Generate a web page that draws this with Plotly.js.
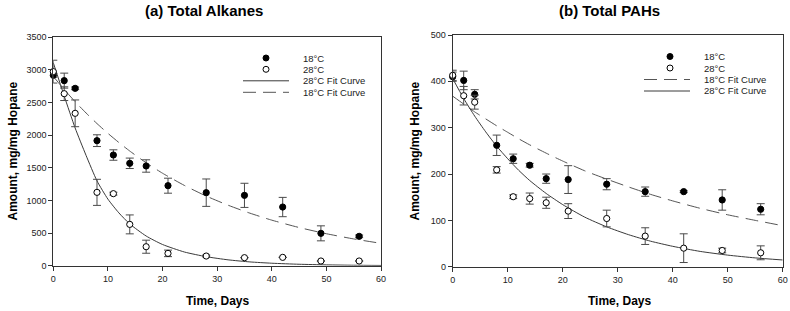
<!DOCTYPE html>
<html>
<head>
<meta charset="utf-8">
<script src="https://cdn.plot.ly/plotly-3.0.1.min.js"></script>
<style>
  html, body { margin: 0; padding: 0; background: #fff; }
  #chart { width: 790px; height: 311px; }
</style>
</head>
<body>
<div id="chart"></div>
<script>
// Sampling days
var days = [0, 2, 4, 8, 11, 14, 17, 21, 28, 35, 42, 49, 56];

// (a) Total alkanes, mg/mg hopane
var alk18 = [2918, 2836, 2718, 1916, 1696, 1569, 1528, 1226, 1119, 1078, 899, 496, 450];
var alk18Err = [30, 115, 20, 90, 80, 80, 95, 115, 210, 185, 148, 115, 20];
var alk28 = [2974, 2636, 2335, 1124, 1104, 633, 291, 189, 148, 123, 128, 72, 72];
var alk28Err = [175, 105, 205, 200, 22, 145, 100, 50, 15, 0, 0, 0, 0];

// (b) Total PAHs, mg/mg hopane
var pah18 = [410, 402, 372, 262, 233, 219, 190, 188, 178, 162, 162, 144, 124];
var pah18Err = [10, 20, 10, 22, 10, 4, 10, 30, 12, 10, 2, 22, 12];
var pah28 = [413, 369, 355, 209, 151, 147, 138, 120, 104, 66, 40, 35, 30];
var pah28Err = [11, 20, 15, 7, 4, 12, 12, 16, 18, 18, 31, 5, 15];

// First-order fit curves
var fitDays = [0, 2, 4, 6, 8, 10, 12, 14, 17, 20, 24, 28, 32, 36, 40, 45, 50, 55, 60];
var alk28Fit = [3110, 2600, 2110, 1690, 1300, 1020, 810, 640, 455, 325, 210, 138, 90, 58, 38, 22, 13, 7, 4];
var alk18Fit = [2900, 2700, 2513, 2340, 2178, 2028, 1888, 1757, 1577, 1417, 1230, 1067, 927, 805, 698, 585, 490, 410, 343];
var pah18Fit = [368, 351, 334, 319, 304, 290, 276, 263, 245, 228, 207, 189, 172, 156, 142, 126, 112, 100, 88.5];
var pah28Fit = [406, 363, 325, 291, 260, 233, 208, 186, 158, 134, 107, 86, 69, 55, 44, 33, 25, 19, 14.5];

// Labels
var panelTitles = ['(a) Total Alkanes', '(b) Total PAHs'];
var xTitle = 'Time, Days';
var yTitle = 'Amount, mg/mg Hopane';
var lbl18 = '18°C', lbl28 = '28°C';
var lblFit18 = '18°C Fit Curve', lblFit28 = '28°C Fit Curve';

var W = 790, H = 311;
function px(x) { return x / W; }
function py(y) { return 1 - y / H; }

var FONT = 'Arial, "Liberation Sans", Helvetica, sans-serif';
var INK = '#222';
var ERR = '#4a4a4a';

function errSpec(arr) {
  return { type: 'data', array: arr, visible: true, color: ERR, thickness: 1, width: 4 };
}
function pts(x, y, err, filled, xa, ya) {
  return {
    x: x, y: y, xaxis: xa, yaxis: ya, type: 'scatter', mode: 'markers',
    cliponaxis: false, error_y: errSpec(err),
    marker: { size: 6.2, color: filled ? '#000' : '#fff', line: { color: '#000', width: 1 } },
    hoverinfo: 'skip'
  };
}
function fit(x, y, dashed, xa, ya) {
  return {
    x: x, y: y, xaxis: xa, yaxis: ya, type: 'scatter', mode: 'lines',
    line: { color: dashed ? '#555' : '#3a3a3a', width: 1, dash: dashed ? '13px,7px' : 'solid', shape: 'spline', smoothing: 0.6 },
    hoverinfo: 'skip'
  };
}

var traces = [
  fit(fitDays, alk28Fit, false, 'x', 'y'),
  fit(fitDays, alk18Fit, true, 'x', 'y'),
  pts(days, alk18, alk18Err, true, 'x', 'y'),
  pts(days, alk28, alk28Err, false, 'x', 'y'),
  fit(fitDays, pah18Fit, true, 'x2', 'y2'),
  fit(fitDays, pah28Fit, false, 'x2', 'y2'),
  pts(days, pah18, pah18Err, true, 'x2', 'y2'),
  pts(days, pah28, pah28Err, false, 'x2', 'y2')
];

function axis(extra) {
  var base = {
    showline: true, mirror: true, linecolor: '#333', linewidth: 1,
    ticks: 'outside', ticklen: 4, tickwidth: 1, tickcolor: '#333',
    showgrid: false, zeroline: false, automargin: false,
    tickfont: { family: FONT, size: 9, color: INK }
  };
  for (var k in extra) base[k] = extra[k];
  return base;
}

var annotations = [];
var shapes = [];
function text(t, x, y, opts) {
  var a = {
    text: t, xref: 'paper', yref: 'paper', x: px(x), y: py(y),
    xanchor: 'center', yanchor: 'middle', showarrow: false,
    font: { family: FONT, size: 12, color: '#000' }
  };
  for (var k in opts) a[k] = opts[k];
  annotations.push(a);
}

// Panel titles and axis titles
text('<b>' + panelTitles[0] + '</b>', 204, 10.5, { font: { family: FONT, size: 15, color: '#000' } });
text('<b>' + panelTitles[1] + '</b>', 609, 10.5, { font: { family: FONT, size: 15, color: '#000' } });
text('<b>' + xTitle + '</b>', 217, 300.5, {});
text('<b>' + xTitle + '</b>', 619, 301, {});
text('<b>' + yTitle + '</b>', 12, 151.5, { textangle: -90 });
text('<b>' + yTitle + '</b>', 414, 151.5, { textangle: -90 });

// Legend keys
function keyDot(cx, cy, filled) {
  shapes.push({
    type: 'circle', xref: 'paper', yref: 'paper',
    xsizemode: 'pixel', ysizemode: 'pixel', xanchor: px(cx), yanchor: py(cy),
    x0: -3, x1: 3, y0: -3, y1: 3,
    fillcolor: filled ? '#000' : '#fff', line: { color: '#000', width: 1 }
  });
}
function keyLine(x0, x1, y, dashed) {
  shapes.push({
    type: 'line', xref: 'paper', yref: 'paper', x0: px(x0), x1: px(x1), y0: py(y), y1: py(y),
    line: { color: dashed ? '#555' : '#3a3a3a', width: 1, dash: dashed ? '13px,7px' : 'solid' }
  });
}
function keyText(t, x, y) {
  text(t, x, y, { xanchor: 'left', font: { family: FONT, size: 9.5, color: INK } });
}

// (a) legend
var aRows = [58, 69.3, 80.8, 92.3];
keyDot(266, aRows[0], true);  keyText(lbl18, 301, aRows[0]);
keyDot(266, aRows[1], false); keyText(lbl28, 301, aRows[1]);
keyLine(243, 289, aRows[2], false); keyText(lblFit28, 301, aRows[2]);
keyLine(243, 289, aRows[3], true);  keyText(lblFit18, 301, aRows[3]);

// (b) legend
var bRows = [56.5, 68, 79.5, 91];
keyDot(670, bRows[0], true);  keyText(lbl18, 702, bRows[0]);
keyDot(670, bRows[1], false); keyText(lbl28, 702, bRows[1]);
keyLine(644, 690, bRows[2], true);  keyText(lblFit18, 702, bRows[2]);
keyLine(644, 690, bRows[3], false); keyText(lblFit28, 702, bRows[3]);

var layout = {
  width: W, height: H,
  margin: { l: 0, r: 0, t: 0, b: 0, pad: 0 },
  paper_bgcolor: '#fff', plot_bgcolor: '#fff',
  showlegend: false, hovermode: false,
  font: { family: FONT, color: INK },
  xaxis: axis({ domain: [px(53.3), px(381)], range: [0, 60], dtick: 10, anchor: 'y' }),
  yaxis: axis({ domain: [py(265.7), py(37.3)], range: [0, 3500], dtick: 500, anchor: 'x' }),
  xaxis2: axis({ domain: [px(452.7), px(782.7)], range: [0, 60], dtick: 10, anchor: 'y2' }),
  yaxis2: axis({ domain: [py(266.7), py(35)], range: [0, 500], dtick: 100, anchor: 'x2' }),
  annotations: annotations,
  shapes: shapes
};

Plotly.newPlot('chart', traces, layout, { staticPlot: true, displayModeBar: false });
</script>
</body>
</html>
